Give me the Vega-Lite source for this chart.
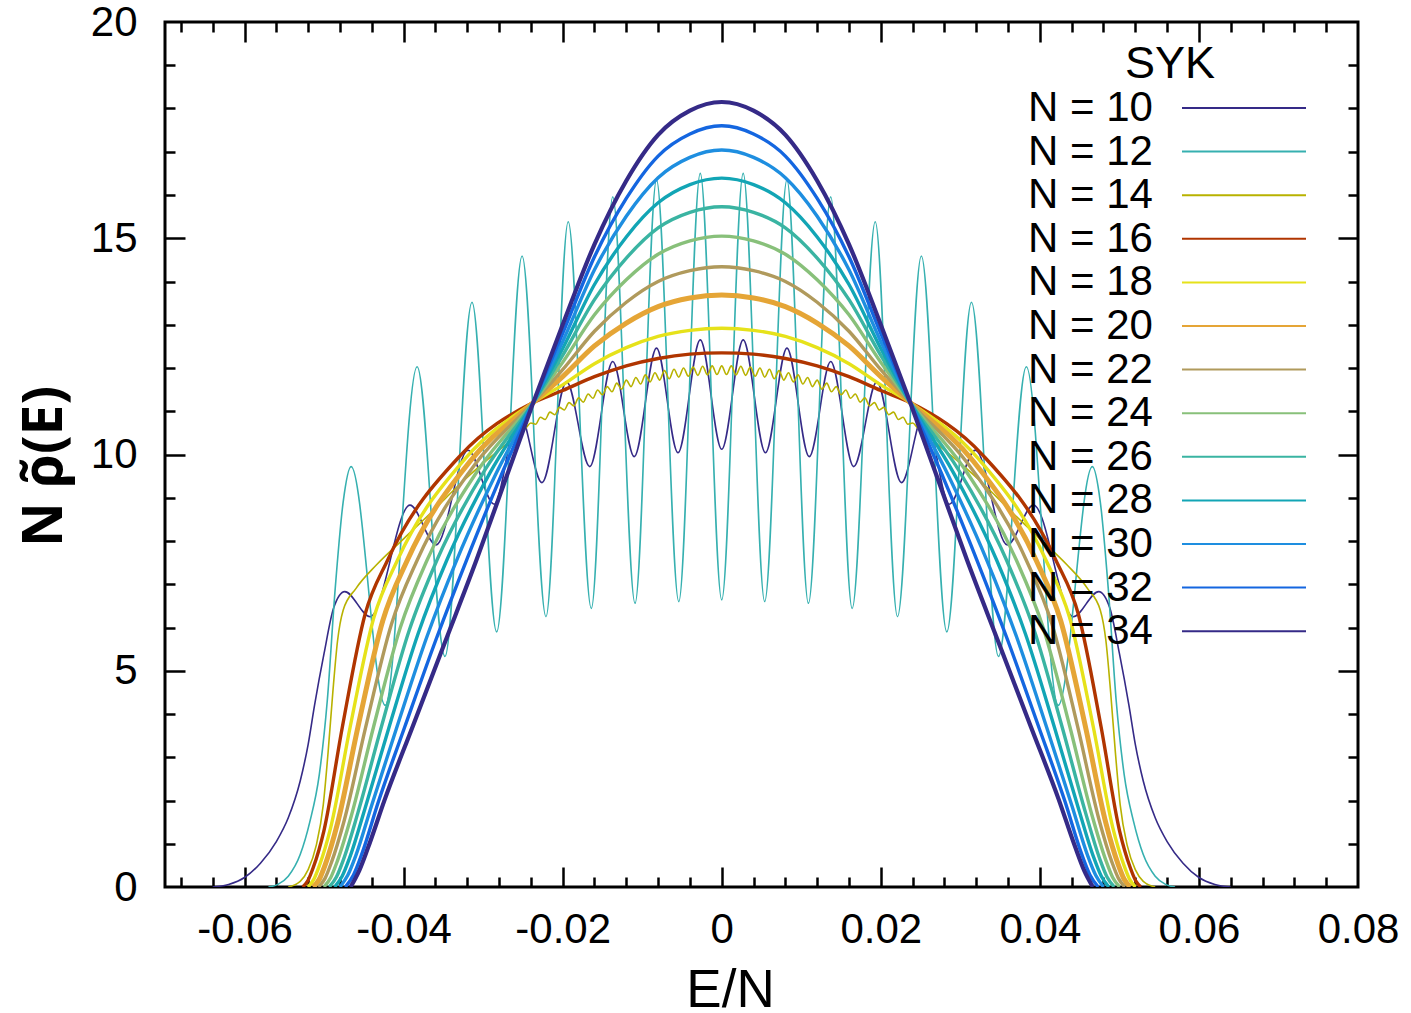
{
"$schema":"https://vega.github.io/schema/vega-lite/v6.json",
"width":1193,"height":865,
"autosize":{"type":"none"},
"padding":{"left":165,"top":22,"right":53,"bottom":126},
"config":{"font":"Liberation Sans","view":{"stroke":"#000","strokeWidth":3}},
"data":{"values":[
{"n":10,"x":-0.064,"y":0},{"n":10,"x":-0.062,"y":0.06},{"n":10,"x":-0.06,"y":0.22},{"n":10,"x":-0.058,"y":0.55},{"n":10,"x":-0.056,"y":1.05},{"n":10,"x":-0.0545,"y":1.6},{"n":10,"x":-0.053,"y":2.45},{"n":10,"x":-0.052,"y":3.3},{"n":10,"x":-0.0512,"y":4.2},{"n":10,"x":-0.05,"y":5.4},{"n":10,"x":-0.0488,"y":6.45},{"n":10,"x":-0.0474,"y":6.83},{"n":10,"x":-0.0442,"y":6.25},{"n":10,"x":-0.0392,"y":8.83},{"n":10,"x":-0.0359,"y":7.91},{"n":10,"x":-0.0319,"y":10.1},{"n":10,"x":-0.0286,"y":8.85},{"n":10,"x":-0.0255,"y":11.0},{"n":10,"x":-0.0226,"y":9.35},{"n":10,"x":-0.0195,"y":11.68},{"n":10,"x":-0.0166,"y":9.72},{"n":10,"x":-0.0137,"y":12.15},{"n":10,"x":-0.011,"y":9.95},{"n":10,"x":-0.0082,"y":12.46},{"n":10,"x":-0.0055,"y":10.04},{"n":10,"x":-0.0027,"y":12.65},{"n":10,"x":0,"y":10.12},
{"n":10,"x":0.0027,"y":12.65},{"n":10,"x":0.0055,"y":10.04},{"n":10,"x":0.0082,"y":12.46},{"n":10,"x":0.011,"y":9.95},{"n":10,"x":0.0137,"y":12.15},{"n":10,"x":0.0166,"y":9.72},{"n":10,"x":0.0195,"y":11.68},{"n":10,"x":0.0226,"y":9.35},{"n":10,"x":0.0255,"y":11.0},{"n":10,"x":0.0286,"y":8.85},{"n":10,"x":0.0319,"y":10.1},{"n":10,"x":0.0359,"y":7.91},{"n":10,"x":0.0392,"y":8.83},{"n":10,"x":0.0442,"y":6.25},{"n":10,"x":0.0474,"y":6.83},{"n":10,"x":0.0488,"y":6.45},{"n":10,"x":0.05,"y":5.4},{"n":10,"x":0.0512,"y":4.2},{"n":10,"x":0.052,"y":3.3},{"n":10,"x":0.053,"y":2.45},{"n":10,"x":0.0545,"y":1.6},{"n":10,"x":0.056,"y":1.05},{"n":10,"x":0.058,"y":0.55},{"n":10,"x":0.06,"y":0.22},{"n":10,"x":0.062,"y":0.06},{"n":10,"x":0.064,"y":0},
{"n":12,"x":-0.057,"y":0},{"n":12,"x":-0.0558,"y":0.06},{"n":12,"x":-0.0545,"y":0.25},{"n":12,"x":-0.053,"y":0.75},{"n":12,"x":-0.0518,"y":1.5},{"n":12,"x":-0.0506,"y":2.6},{"n":12,"x":-0.0496,"y":4.3},{"n":12,"x":-0.0486,"y":6.9},{"n":12,"x":-0.0476,"y":8.9},{"n":12,"x":-0.0466,"y":9.72},{"n":12,"x":-0.0423,"y":4.2},{"n":12,"x":-0.0383,"y":12.03},{"n":12,"x":-0.0348,"y":5.33},{"n":12,"x":-0.0314,"y":13.52},{"n":12,"x":-0.0283,"y":5.9},{"n":12,"x":-0.0251,"y":14.59},{"n":12,"x":-0.0221,"y":6.25},{"n":12,"x":-0.0193,"y":15.38},{"n":12,"x":-0.0164,"y":6.44},{"n":12,"x":-0.0137,"y":15.96},{"n":12,"x":-0.0109,"y":6.56},{"n":12,"x":-0.0082,"y":16.35},{"n":12,"x":-0.0054,"y":6.6},{"n":12,"x":-0.0027,"y":16.5},{"n":12,"x":0,"y":6.64},
{"n":12,"x":0.0027,"y":16.5},{"n":12,"x":0.0054,"y":6.6},{"n":12,"x":0.0082,"y":16.35},{"n":12,"x":0.0109,"y":6.56},{"n":12,"x":0.0137,"y":15.96},{"n":12,"x":0.0164,"y":6.44},{"n":12,"x":0.0193,"y":15.38},{"n":12,"x":0.0221,"y":6.25},{"n":12,"x":0.0251,"y":14.59},{"n":12,"x":0.0283,"y":5.9},{"n":12,"x":0.0314,"y":13.52},{"n":12,"x":0.0348,"y":5.33},{"n":12,"x":0.0383,"y":12.03},{"n":12,"x":0.0423,"y":4.2},{"n":12,"x":0.0466,"y":9.72},{"n":12,"x":0.0476,"y":8.9},{"n":12,"x":0.0486,"y":6.9},{"n":12,"x":0.0496,"y":4.3},{"n":12,"x":0.0506,"y":2.6},{"n":12,"x":0.0518,"y":1.5},{"n":12,"x":0.053,"y":0.75},{"n":12,"x":0.0545,"y":0.25},{"n":12,"x":0.0558,"y":0.06},{"n":12,"x":0.057,"y":0},
{"n":14,"x":-0.0545,"y":0},{"n":14,"x":-0.053,"y":0.13},{"n":14,"x":-0.052,"y":0.4},{"n":14,"x":-0.051,"y":0.95},{"n":14,"x":-0.0501,"y":1.9},{"n":14,"x":-0.0495,"y":3.1},{"n":14,"x":-0.0489,"y":4.5},{"n":14,"x":-0.0483,"y":5.7},{"n":14,"x":-0.0476,"y":6.4},{"n":14,"x":-0.046,"y":6.9},{"n":14,"x":-0.0434,"y":7.45},{"n":14,"x":-0.04,"y":8.05},{"n":14,"x":-0.0363,"y":8.7},{"n":14,"x":-0.033,"y":9.3},{"n":14,"x":-0.03,"y":9.8},{"n":14,"x":-0.027,"y":10.25},{"n":14,"x":-0.0246,"y":10.62},
{"n":14,"x":-0.024,"y":10.73},{"n":14,"x":-0.0234,"y":10.7},{"n":14,"x":-0.0228,"y":10.86},{"n":14,"x":-0.0222,"y":10.81},{"n":14,"x":-0.0216,"y":10.98},{"n":14,"x":-0.021,"y":10.92},{"n":14,"x":-0.0204,"y":11.09},{"n":14,"x":-0.0198,"y":11.03},{"n":14,"x":-0.0192,"y":11.2},{"n":14,"x":-0.0186,"y":11.12},{"n":14,"x":-0.018,"y":11.31},{"n":14,"x":-0.0174,"y":11.21},{"n":14,"x":-0.0168,"y":11.4},{"n":14,"x":-0.0162,"y":11.3},{"n":14,"x":-0.0156,"y":11.49},{"n":14,"x":-0.015,"y":11.38},{"n":14,"x":-0.0144,"y":11.57},{"n":14,"x":-0.0138,"y":11.45},{"n":14,"x":-0.0132,"y":11.65},{"n":14,"x":-0.0126,"y":11.51},{"n":14,"x":-0.012,"y":11.72},{"n":14,"x":-0.0114,"y":11.57},{"n":14,"x":-0.0108,"y":11.78},{"n":14,"x":-0.0102,"y":11.63},{"n":14,"x":-0.0096,"y":11.84},{"n":14,"x":-0.009,"y":11.68},{"n":14,"x":-0.0084,"y":11.89},{"n":14,"x":-0.0078,"y":11.72},{"n":14,"x":-0.0072,"y":11.94},{"n":14,"x":-0.0066,"y":11.75},{"n":14,"x":-0.006,"y":11.97},{"n":14,"x":-0.0054,"y":11.79},{"n":14,"x":-0.0048,"y":12.0},{"n":14,"x":-0.0042,"y":11.81},{"n":14,"x":-0.0036,"y":12.02},{"n":14,"x":-0.003,"y":11.83},{"n":14,"x":-0.0024,"y":12.04},{"n":14,"x":-0.0018,"y":11.84},{"n":14,"x":-0.0012,"y":12.05},{"n":14,"x":-0.0006,"y":11.85},{"n":14,"x":0,"y":12.05},
{"n":14,"x":0.0006,"y":11.85},{"n":14,"x":0.0012,"y":12.05},{"n":14,"x":0.0018,"y":11.84},{"n":14,"x":0.0024,"y":12.04},{"n":14,"x":0.003,"y":11.83},{"n":14,"x":0.0036,"y":12.02},{"n":14,"x":0.0042,"y":11.81},{"n":14,"x":0.0048,"y":12.0},{"n":14,"x":0.0054,"y":11.79},{"n":14,"x":0.006,"y":11.97},{"n":14,"x":0.0066,"y":11.75},{"n":14,"x":0.0072,"y":11.94},{"n":14,"x":0.0078,"y":11.72},{"n":14,"x":0.0084,"y":11.89},{"n":14,"x":0.009,"y":11.68},{"n":14,"x":0.0096,"y":11.84},{"n":14,"x":0.0102,"y":11.63},{"n":14,"x":0.0108,"y":11.78},{"n":14,"x":0.0114,"y":11.57},{"n":14,"x":0.012,"y":11.72},{"n":14,"x":0.0126,"y":11.51},{"n":14,"x":0.0132,"y":11.65},{"n":14,"x":0.0138,"y":11.45},{"n":14,"x":0.0144,"y":11.57},{"n":14,"x":0.015,"y":11.38},{"n":14,"x":0.0156,"y":11.49},{"n":14,"x":0.0162,"y":11.3},{"n":14,"x":0.0168,"y":11.4},{"n":14,"x":0.0174,"y":11.21},{"n":14,"x":0.018,"y":11.31},{"n":14,"x":0.0186,"y":11.12},{"n":14,"x":0.0192,"y":11.2},{"n":14,"x":0.0198,"y":11.03},{"n":14,"x":0.0204,"y":11.09},{"n":14,"x":0.021,"y":10.92},{"n":14,"x":0.0216,"y":10.98},{"n":14,"x":0.0222,"y":10.81},{"n":14,"x":0.0228,"y":10.86},{"n":14,"x":0.0234,"y":10.7},{"n":14,"x":0.024,"y":10.73},
{"n":14,"x":0.0246,"y":10.62},{"n":14,"x":0.027,"y":10.25},{"n":14,"x":0.03,"y":9.8},{"n":14,"x":0.033,"y":9.3},{"n":14,"x":0.0363,"y":8.7},{"n":14,"x":0.04,"y":8.05},{"n":14,"x":0.0434,"y":7.45},{"n":14,"x":0.046,"y":6.9},{"n":14,"x":0.0476,"y":6.4},{"n":14,"x":0.0483,"y":5.7},{"n":14,"x":0.0489,"y":4.5},{"n":14,"x":0.0495,"y":3.1},{"n":14,"x":0.0501,"y":1.9},{"n":14,"x":0.051,"y":0.95},{"n":14,"x":0.052,"y":0.4},{"n":14,"x":0.053,"y":0.13},{"n":14,"x":0.0545,"y":0},
{"n":16,"x":-0.0527,"y":0},{"n":16,"x":-0.05203,"y":0.15},{"n":16,"x":-0.05136,"y":0.45},{"n":16,"x":-0.05002,"y":1.3},{"n":16,"x":-0.0477,"y":3.7},{"n":16,"x":-0.04485,"y":6.3},{"n":16,"x":-0.042,"y":7.56},{"n":16,"x":-0.03285,"y":9.98},{"n":16,"x":-0.0237,"y":11.2},{"n":16,"x":-0.02,"y":11.48},{"n":16,"x":-0.016,"y":11.8},{"n":16,"x":-0.012,"y":12.05},{"n":16,"x":-0.008,"y":12.22},{"n":16,"x":-0.004,"y":12.32},{"n":16,"x":0,"y":12.35},{"n":16,"x":0.004,"y":12.32},{"n":16,"x":0.008,"y":12.22},{"n":16,"x":0.012,"y":12.05},{"n":16,"x":0.016,"y":11.8},{"n":16,"x":0.02,"y":11.48},{"n":16,"x":0.0237,"y":11.2},{"n":16,"x":0.03285,"y":9.98},{"n":16,"x":0.042,"y":7.56},{"n":16,"x":0.04485,"y":6.3},{"n":16,"x":0.0477,"y":3.7},{"n":16,"x":0.05002,"y":1.3},{"n":16,"x":0.05136,"y":0.45},{"n":16,"x":0.05203,"y":0.15},{"n":16,"x":0.0527,"y":0},
{"n":18,"x":-0.05203,"y":0},{"n":18,"x":-0.05131,"y":0.17},{"n":18,"x":-0.0506,"y":0.49},{"n":18,"x":-0.04916,"y":1.38},{"n":18,"x":-0.04672,"y":3.7},{"n":18,"x":-0.04374,"y":6.23},{"n":18,"x":-0.04076,"y":7.56},{"n":18,"x":-0.03223,"y":9.91},{"n":18,"x":-0.0237,"y":11.2},{"n":18,"x":-0.02,"y":11.61},{"n":18,"x":-0.016,"y":12.1},{"n":18,"x":-0.012,"y":12.47},{"n":18,"x":-0.008,"y":12.73},{"n":18,"x":-0.004,"y":12.87},{"n":18,"x":0,"y":12.92},{"n":18,"x":0.004,"y":12.87},{"n":18,"x":0.008,"y":12.73},{"n":18,"x":0.012,"y":12.47},{"n":18,"x":0.016,"y":12.1},{"n":18,"x":0.02,"y":11.61},{"n":18,"x":0.0237,"y":11.2},{"n":18,"x":0.03223,"y":9.91},{"n":18,"x":0.04076,"y":7.56},{"n":18,"x":0.04374,"y":6.23},{"n":18,"x":0.04672,"y":3.7},{"n":18,"x":0.04916,"y":1.38},{"n":18,"x":0.0506,"y":0.49},{"n":18,"x":0.05131,"y":0.17},{"n":18,"x":0.05203,"y":0},
{"n":20,"x":-0.05136,"y":0},{"n":20,"x":-0.0506,"y":0.18},{"n":20,"x":-0.04983,"y":0.53},{"n":20,"x":-0.04831,"y":1.47},{"n":20,"x":-0.04574,"y":3.7},{"n":20,"x":-0.04263,"y":6.15},{"n":20,"x":-0.03952,"y":7.56},{"n":20,"x":-0.03161,"y":9.85},{"n":20,"x":-0.0237,"y":11.2},{"n":20,"x":-0.02,"y":11.8},{"n":20,"x":-0.016,"y":12.51},{"n":20,"x":-0.012,"y":13.04},{"n":20,"x":-0.008,"y":13.42},{"n":20,"x":-0.004,"y":13.62},{"n":20,"x":0,"y":13.69},{"n":20,"x":0.004,"y":13.62},{"n":20,"x":0.008,"y":13.42},{"n":20,"x":0.012,"y":13.04},{"n":20,"x":0.016,"y":12.51},{"n":20,"x":0.02,"y":11.8},{"n":20,"x":0.0237,"y":11.2},{"n":20,"x":0.03161,"y":9.85},{"n":20,"x":0.03952,"y":7.56},{"n":20,"x":0.04263,"y":6.15},{"n":20,"x":0.04574,"y":3.7},{"n":20,"x":0.04831,"y":1.47},{"n":20,"x":0.04983,"y":0.53},{"n":20,"x":0.0506,"y":0.18},{"n":20,"x":0.05136,"y":0},
{"n":22,"x":-0.05069,"y":0},{"n":22,"x":-0.04988,"y":0.2},{"n":22,"x":-0.04907,"y":0.57},{"n":22,"x":-0.04745,"y":1.55},{"n":22,"x":-0.04476,"y":3.7},{"n":22,"x":-0.04152,"y":6.08},{"n":22,"x":-0.03828,"y":7.56},{"n":22,"x":-0.03099,"y":9.78},{"n":22,"x":-0.0237,"y":11.2},{"n":22,"x":-0.02,"y":11.96},{"n":22,"x":-0.016,"y":12.85},{"n":22,"x":-0.012,"y":13.52},{"n":22,"x":-0.008,"y":14.0},{"n":22,"x":-0.004,"y":14.25},{"n":22,"x":0,"y":14.34},{"n":22,"x":0.004,"y":14.25},{"n":22,"x":0.008,"y":14.0},{"n":22,"x":0.012,"y":13.52},{"n":22,"x":0.016,"y":12.85},{"n":22,"x":0.02,"y":11.96},{"n":22,"x":0.0237,"y":11.2},{"n":22,"x":0.03099,"y":9.78},{"n":22,"x":0.03828,"y":7.56},{"n":22,"x":0.04152,"y":6.08},{"n":22,"x":0.04476,"y":3.7},{"n":22,"x":0.04745,"y":1.55},{"n":22,"x":0.04907,"y":0.57},{"n":22,"x":0.04988,"y":0.2},{"n":22,"x":0.05069,"y":0},
{"n":24,"x":-0.05002,"y":0},{"n":24,"x":-0.04916,"y":0.22},{"n":24,"x":-0.04831,"y":0.61},{"n":24,"x":-0.0466,"y":1.63},{"n":24,"x":-0.04378,"y":3.7},{"n":24,"x":-0.04041,"y":6.0},{"n":24,"x":-0.03704,"y":7.56},{"n":24,"x":-0.03037,"y":9.71},{"n":24,"x":-0.0237,"y":11.2},{"n":24,"x":-0.02,"y":12.13},{"n":24,"x":-0.016,"y":13.23},{"n":24,"x":-0.012,"y":14.04},{"n":24,"x":-0.008,"y":14.63},{"n":24,"x":-0.004,"y":14.94},{"n":24,"x":0,"y":15.05},{"n":24,"x":0.004,"y":14.94},{"n":24,"x":0.008,"y":14.63},{"n":24,"x":0.012,"y":14.04},{"n":24,"x":0.016,"y":13.23},{"n":24,"x":0.02,"y":12.13},{"n":24,"x":0.0237,"y":11.2},{"n":24,"x":0.03037,"y":9.71},{"n":24,"x":0.03704,"y":7.56},{"n":24,"x":0.04041,"y":6.0},{"n":24,"x":0.04378,"y":3.7},{"n":24,"x":0.0466,"y":1.63},{"n":24,"x":0.04831,"y":0.61},{"n":24,"x":0.04916,"y":0.22},{"n":24,"x":0.05002,"y":0},
{"n":26,"x":-0.04935,"y":0},{"n":26,"x":-0.04845,"y":0.23},{"n":26,"x":-0.04755,"y":0.64},{"n":26,"x":-0.04574,"y":1.72},{"n":26,"x":-0.0428,"y":3.7},{"n":26,"x":-0.0393,"y":5.93},{"n":26,"x":-0.0358,"y":7.56},{"n":26,"x":-0.02975,"y":9.65},{"n":26,"x":-0.0237,"y":11.2},{"n":26,"x":-0.02,"y":12.29},{"n":26,"x":-0.016,"y":13.58},{"n":26,"x":-0.012,"y":14.54},{"n":26,"x":-0.008,"y":15.24},{"n":26,"x":-0.004,"y":15.6},{"n":26,"x":0,"y":15.73},{"n":26,"x":0.004,"y":15.6},{"n":26,"x":0.008,"y":15.24},{"n":26,"x":0.012,"y":14.54},{"n":26,"x":0.016,"y":13.58},{"n":26,"x":0.02,"y":12.29},{"n":26,"x":0.0237,"y":11.2},{"n":26,"x":0.02975,"y":9.65},{"n":26,"x":0.0358,"y":7.56},{"n":26,"x":0.0393,"y":5.93},{"n":26,"x":0.0428,"y":3.7},{"n":26,"x":0.04574,"y":1.72},{"n":26,"x":0.04755,"y":0.64},{"n":26,"x":0.04845,"y":0.23},{"n":26,"x":0.04935,"y":0},
{"n":28,"x":-0.04868,"y":0},{"n":28,"x":-0.04773,"y":0.25},{"n":28,"x":-0.04678,"y":0.68},{"n":28,"x":-0.04488,"y":1.8},{"n":28,"x":-0.04182,"y":3.7},{"n":28,"x":-0.03819,"y":5.85},{"n":28,"x":-0.03456,"y":7.56},{"n":28,"x":-0.02913,"y":9.58},{"n":28,"x":-0.0237,"y":11.2},{"n":28,"x":-0.02,"y":12.45},{"n":28,"x":-0.016,"y":13.93},{"n":28,"x":-0.012,"y":15.03},{"n":28,"x":-0.008,"y":15.82},{"n":28,"x":-0.004,"y":16.24},{"n":28,"x":0,"y":16.39},{"n":28,"x":0.004,"y":16.24},{"n":28,"x":0.008,"y":15.82},{"n":28,"x":0.012,"y":15.03},{"n":28,"x":0.016,"y":13.93},{"n":28,"x":0.02,"y":12.45},{"n":28,"x":0.0237,"y":11.2},{"n":28,"x":0.02913,"y":9.58},{"n":28,"x":0.03456,"y":7.56},{"n":28,"x":0.03819,"y":5.85},{"n":28,"x":0.04182,"y":3.7},{"n":28,"x":0.04488,"y":1.8},{"n":28,"x":0.04678,"y":0.68},{"n":28,"x":0.04773,"y":0.25},{"n":28,"x":0.04868,"y":0},
{"n":30,"x":-0.04801,"y":0},{"n":30,"x":-0.04702,"y":0.27},{"n":30,"x":-0.04602,"y":0.72},{"n":30,"x":-0.04403,"y":1.88},{"n":30,"x":-0.04084,"y":3.7},{"n":30,"x":-0.03708,"y":5.78},{"n":30,"x":-0.03332,"y":7.56},{"n":30,"x":-0.02851,"y":9.51},{"n":30,"x":-0.0237,"y":11.2},{"n":30,"x":-0.02,"y":12.61},{"n":30,"x":-0.016,"y":14.27},{"n":30,"x":-0.012,"y":15.51},{"n":30,"x":-0.008,"y":16.4},{"n":30,"x":-0.004,"y":16.87},{"n":30,"x":0,"y":17.04},{"n":30,"x":0.004,"y":16.87},{"n":30,"x":0.008,"y":16.4},{"n":30,"x":0.012,"y":15.51},{"n":30,"x":0.016,"y":14.27},{"n":30,"x":0.02,"y":12.61},{"n":30,"x":0.0237,"y":11.2},{"n":30,"x":0.02851,"y":9.51},{"n":30,"x":0.03332,"y":7.56},{"n":30,"x":0.03708,"y":5.78},{"n":30,"x":0.04084,"y":3.7},{"n":30,"x":0.04403,"y":1.88},{"n":30,"x":0.04602,"y":0.72},{"n":30,"x":0.04702,"y":0.27},{"n":30,"x":0.04801,"y":0},
{"n":32,"x":-0.04734,"y":0},{"n":32,"x":-0.0463,"y":0.28},{"n":32,"x":-0.04526,"y":0.76},{"n":32,"x":-0.04317,"y":1.97},{"n":32,"x":-0.03986,"y":3.7},{"n":32,"x":-0.03597,"y":5.7},{"n":32,"x":-0.03208,"y":7.56},{"n":32,"x":-0.02789,"y":9.45},{"n":32,"x":-0.0237,"y":11.2},{"n":32,"x":-0.02,"y":12.8},{"n":32,"x":-0.016,"y":14.57},{"n":32,"x":-0.012,"y":15.92},{"n":32,"x":-0.008,"y":16.9},{"n":32,"x":-0.004,"y":17.41},{"n":32,"x":0,"y":17.6},{"n":32,"x":0.004,"y":17.41},{"n":32,"x":0.008,"y":16.9},{"n":32,"x":0.012,"y":15.92},{"n":32,"x":0.016,"y":14.57},{"n":32,"x":0.02,"y":12.8},{"n":32,"x":0.0237,"y":11.2},{"n":32,"x":0.02789,"y":9.45},{"n":32,"x":0.03208,"y":7.56},{"n":32,"x":0.03597,"y":5.7},{"n":32,"x":0.03986,"y":3.7},{"n":32,"x":0.04317,"y":1.97},{"n":32,"x":0.04526,"y":0.76},{"n":32,"x":0.0463,"y":0.28},{"n":32,"x":0.04734,"y":0},
{"n":34,"x":-0.04667,"y":0},{"n":34,"x":-0.04558,"y":0.38},{"n":34,"x":-0.04449,"y":0.9},{"n":34,"x":-0.04232,"y":2.05},{"n":34,"x":-0.03888,"y":3.7},{"n":34,"x":-0.03486,"y":5.63},{"n":34,"x":-0.03084,"y":7.56},{"n":34,"x":-0.02727,"y":9.38},{"n":34,"x":-0.0237,"y":11.2},{"n":34,"x":-0.02,"y":13.0},{"n":34,"x":-0.016,"y":14.86},{"n":34,"x":-0.012,"y":16.33},{"n":34,"x":-0.008,"y":17.39},{"n":34,"x":-0.004,"y":17.95},{"n":34,"x":0,"y":18.15},{"n":34,"x":0.004,"y":17.95},{"n":34,"x":0.008,"y":17.39},{"n":34,"x":0.012,"y":16.33},{"n":34,"x":0.016,"y":14.86},{"n":34,"x":0.02,"y":13.0},{"n":34,"x":0.0237,"y":11.2},{"n":34,"x":0.02727,"y":9.38},{"n":34,"x":0.03084,"y":7.56},{"n":34,"x":0.03486,"y":5.63},{"n":34,"x":0.03888,"y":3.7},{"n":34,"x":0.04232,"y":2.05},{"n":34,"x":0.04449,"y":0.9},{"n":34,"x":0.04558,"y":0.38},{"n":34,"x":0.04667,"y":0}
]},
"layer":[
{"mark":{"type":"line","interpolate":"monotone","clip":true},
 "encoding":{
  "x":{"field":"x","type":"quantitative","scale":{"domain":[-0.07,0.08],"nice":false,"zero":false},
   "axis":{"orient":"bottom","values":[-0.06,-0.04,-0.02,0,0.02,0.04,0.06,0.08],"ticks":false,"domain":false,"grid":false,"labelFontSize":42,"labelPadding":22,"labelColor":"#000","labelFlush":false,"labelOverlap":false,"labelBound":false,
    "labelExpr":"datum.value == 0 ? '0' : (datum.value < 0 ? '-' : '') + format(abs(datum.value), '.2f')",
    "title":"E/N","titleFontSize":53,"titleFontWeight":"normal","titleColor":"#000","titleX":565,"titleY":119,"titleBaseline":"alphabetic","titleAlign":"center"}},
  "y":{"field":"y","type":"quantitative","scale":{"domain":[0,20],"nice":false,"zero":false},
   "axis":{"orient":"left","values":[0,5,10,15,20],"ticks":false,"domain":false,"grid":false,"labelFontSize":42,"labelPadding":28,"labelColor":"#000","labelFlush":false,"labelOverlap":false,"labelBound":false,
    "title":"N ρ̃(E)","titleFont":"Noto Sans","titleFontSize":55,"titleFontWeight":"bold","titleColor":"#000","titleX":-104,"titleY":444,"titleBaseline":"alphabetic","titleAlign":"center","titleAngle":-90}},
  "color":{"field":"n","type":"nominal",
   "scale":{"domain":[10,12,14,16,18,20,22,24,26,28,30,32,34],"range":["#352a87","#36b0b0","#b8b200","#b03500","#e6e21a","#e5a536","#b09a5c","#88c07a","#3ab4a2","#12a5b5","#1e8ee0","#1466e0","#352a87"]},
   "legend":{"orient":"none","legendX":865,"legendY":20,"title":"SYK","titleFontSize":45,"titleFontWeight":"normal","titleColor":"#000","titleAnchor":"middle","titlePadding":0,"labelFontSize":42,"labelColor":"#000","labelAlign":"left","labelOffset":-237,"labelLimit":0,"symbolType":"M-6.2,0H6.2","symbolSize":400,"symbolStrokeWidth":2,"symbolOffset":193,"rowPadding":1.6,"padding":0,"labelExpr":"'N = ' + datum.label"}},
  "strokeWidth":{"condition":[{"test":"datum.n <= 14","value":1.6},{"test":"datum.n == 20","value":5},{"test":"datum.n == 34","value":4.2}],"value":3.4}
 }},
{"mark":{"type":"line","opacity":0},
 "encoding":{
  "x":{"field":"x","type":"quantitative","scale":{"domain":[-0.07,0.08],"nice":false,"zero":false},
   "axis":{"orient":"bottom","values":[-0.06,-0.04,-0.02,0,0.02,0.04,0.06],"labels":false,"domain":false,"grid":false,"ticks":true,"tickSize":-20,"tickWidth":2.5,"tickColor":"#000","title":null}},
  "y":{"field":"y","type":"quantitative","scale":{"domain":[0,20],"nice":false,"zero":false},
   "axis":{"orient":"left","values":[5,10,15],"labels":false,"domain":false,"grid":false,"ticks":true,"tickSize":-20,"tickWidth":2.5,"tickColor":"#000","title":null}}
 }},
{"mark":{"type":"line","opacity":0},
 "encoding":{
  "x":{"field":"x","type":"quantitative","scale":{"domain":[-0.07,0.08],"nice":false,"zero":false},
   "axis":{"orient":"bottom","values":[-0.068,-0.064,-0.056,-0.052,-0.048,-0.044,-0.036,-0.032,-0.028,-0.024,-0.016,-0.012,-0.008,-0.004,0.004,0.008,0.012,0.016,0.024,0.028,0.032,0.036,0.044,0.048,0.052,0.056,0.064,0.068,0.072,0.076],"labels":false,"domain":false,"grid":false,"ticks":true,"tickSize":-10,"tickWidth":2.5,"tickColor":"#000","title":null}},
  "y":{"field":"y","type":"quantitative","scale":{"domain":[0,20],"nice":false,"zero":false},
   "axis":{"orient":"left","values":[1,2,3,4,6,7,8,9,11,12,13,14,16,17,18,19],"labels":false,"domain":false,"grid":false,"ticks":true,"tickSize":-10,"tickWidth":2.5,"tickColor":"#000","title":null}}
 }},
{"mark":{"type":"line","opacity":0},
 "encoding":{
  "x":{"field":"x","type":"quantitative","scale":{"domain":[-0.07,0.08],"nice":false,"zero":false},
   "axis":{"orient":"top","values":[-0.06,-0.04,-0.02,0,0.02,0.04,0.06],"labels":false,"domain":false,"grid":false,"ticks":true,"tickSize":-20,"tickWidth":2.5,"tickColor":"#000","title":null}},
  "y":{"field":"y","type":"quantitative","scale":{"domain":[0,20],"nice":false,"zero":false},
   "axis":{"orient":"right","values":[5,10,15],"labels":false,"domain":false,"grid":false,"ticks":true,"tickSize":-20,"tickWidth":2.5,"tickColor":"#000","title":null}}
 }},
{"mark":{"type":"line","opacity":0},
 "encoding":{
  "x":{"field":"x","type":"quantitative","scale":{"domain":[-0.07,0.08],"nice":false,"zero":false},
   "axis":{"orient":"top","values":[-0.068,-0.064,-0.056,-0.052,-0.048,-0.044,-0.036,-0.032,-0.028,-0.024,-0.016,-0.012,-0.008,-0.004,0.004,0.008,0.012,0.016,0.024,0.028,0.032,0.036,0.044,0.048,0.052,0.056,0.064,0.068,0.072,0.076],"labels":false,"domain":false,"grid":false,"ticks":true,"tickSize":-10,"tickWidth":2.5,"tickColor":"#000","title":null}},
  "y":{"field":"y","type":"quantitative","scale":{"domain":[0,20],"nice":false,"zero":false},
   "axis":{"orient":"right","values":[1,2,3,4,6,7,8,9,11,12,13,14,16,17,18,19],"labels":false,"domain":false,"grid":false,"ticks":true,"tickSize":-10,"tickWidth":2.5,"tickColor":"#000","title":null}}
 }}
],
"resolve":{"axis":{"x":"independent","y":"independent"}}
}
